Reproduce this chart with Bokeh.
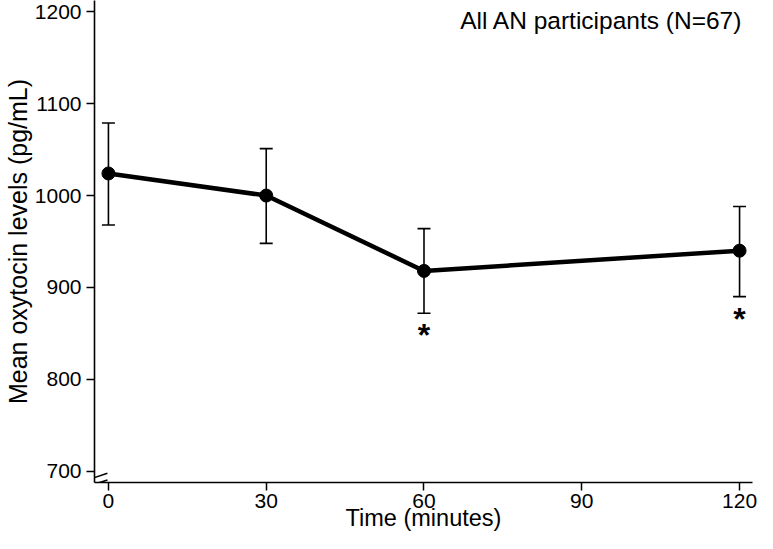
from bokeh.plotting import figure
from bokeh.models import ColumnDataSource, Whisker, TeeHead, Range1d, FixedTicker, Label, Arrow
from bokeh.core.properties import value
from bokeh.embed import file_html
from bokeh.resources import INLINE

# ---- data ----
times = [0, 30, 60, 120]
means = [1024, 1000, 918, 940]
upper = [1079, 1051, 964, 988]
lower = [968, 948, 872, 890]
signif_times = [60, 120]
signif_lower = [872, 890]
x_ticks = [0, 30, 60, 90, 120]
y_ticks = [700, 800, 900, 1000, 1100, 1200]
title_text = "All AN participants (N=67)"

FONT = "Liberation Sans"

W, H = 757, 533
BL, BR = 90, 5
x0, x1 = -2.65, 122.46
y0, y1 = 687.8, 1212.2

p = figure(width=W, height=H, output_backend="svg", toolbar_location=None,
           x_range=Range1d(x0, x1), y_range=Range1d(y0, y1),
           min_border_left=BL, min_border_right=BR, min_border_top=0, min_border_bottom=0)
p.outline_line_color = None
p.xgrid.visible = False
p.ygrid.visible = False
p.background_fill_color = "white"
p.border_fill_color = "white"

for ax in (p.xaxis[0], p.yaxis[0]):
    ax.axis_line_width = 1.6
    ax.axis_line_color = "black"
    ax.major_tick_line_width = 1.5
    ax.major_tick_line_color = "black"
    ax.major_tick_out = 8
    ax.major_tick_in = 0
    ax.minor_tick_line_color = None
    ax.major_label_text_font = FONT
    ax.major_label_text_font_size = "21px"
    ax.major_label_text_color = "black"
    ax.axis_label_text_font = FONT
    ax.axis_label_text_font_style = "normal"
    ax.axis_label_text_color = "black"

p.xaxis.ticker = FixedTicker(ticks=x_ticks)
p.yaxis.ticker = FixedTicker(ticks=y_ticks)
p.xaxis.axis_label = "Time (minutes)"
p.yaxis.axis_label = "Mean oxytocin levels (pg/mL)"
p.xaxis.axis_label_text_font_size = "23.5px"
p.yaxis.axis_label_text_font_size = "25px"
p.xaxis.major_label_standoff = 3
p.yaxis.major_label_standoff = 5
p.xaxis.axis_label_standoff = -6
p.yaxis.axis_label_standoff = 0

src = ColumnDataSource(dict(t=times, m=means, up=upper, lo=lower))

w = Whisker(base="t", upper="up", lower="lo", source=src, dimension="height",
            line_width=1.6, line_color="black",
            upper_head=TeeHead(size=13, line_width=1.6, line_color="black"),
            lower_head=TeeHead(size=13, line_width=1.6, line_color="black"))
p.add_layout(w)

p.line("t", "m", source=src, line_width=4.5, line_color="black")
p.scatter("t", "m", source=src, size=13, fill_color="black", line_color="black")

sig = ColumnDataSource(dict(t=signif_times, y=signif_lower, s=["*"] * len(signif_times)))
p.text("t", "y", text="s", source=sig, text_font=value(FONT), text_font_size="32px",
       text_font_style="bold", text_align="center", text_baseline="top", y_offset=4,
       text_color="black")

p.add_layout(Label(x=120.6, y=1190, text=title_text, text_align="right",
                   text_baseline="middle", text_font=FONT, text_font_size="24.5px",
                   text_color="black"))

# axis-break marks near the bottom-left corner
px_x = (W - BL - BR) / (x1 - x0)
px_y = 452.0 / 500.0
def dx(px):
    return x0 + px / px_x
def dy(px):
    return y0 - px / px_y
for off in (0, 6.5):
    p.add_layout(Arrow(end=None, x_start=dx(-12), y_start=dy(off - 1),
                       x_end=dx(13), y_end=dy(off - 9),
                       line_width=1.6, line_color="black"))

open("out.html", "w").write(file_html(p, INLINE))
